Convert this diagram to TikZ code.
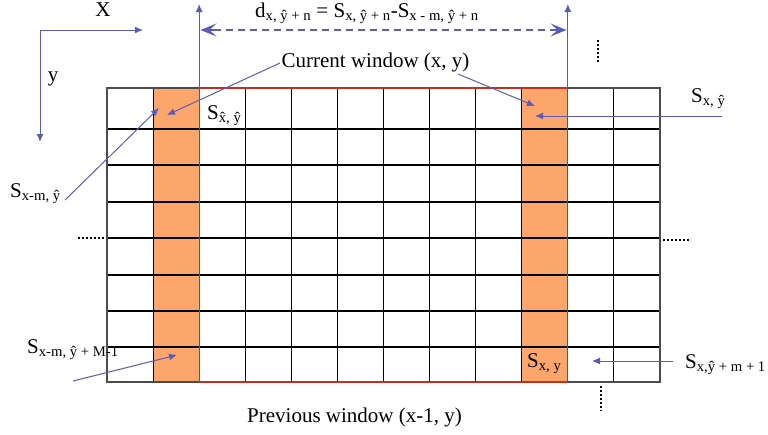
\documentclass[tikz,border=0pt]{standalone}
\usepackage{fontspec}
\setmainfont{Liberation Serif}
\usetikzlibrary{arrows.meta}
\definecolor{myblue}{RGB}{92,92,184}
\definecolor{myorange}{RGB}{252,166,108}
\definecolor{myred}{RGB}{200,45,30}
\newcommand\ms[1]{\textsubscript{#1}}
\tikzset{dhead/.tip={Stealth[length=16pt,width=13pt,inset=7pt]}}
\begin{document}
\begin{tikzpicture}[x=1pt,y=-1pt,
  lbl/.style={font=\fontsize{21}{24}\selectfont, inner sep=0pt},
  conn/.style={myblue, line width=1pt, -{Latex[length=8pt,width=7pt]}},
  gridline/.style={black, line width=1.1pt},
  dots/.style={black, line width=2pt, dash pattern=on 1.6pt off 2.4pt},
  winbox/.style={myred, line width=1.2pt}]
\useasboundingbox (0,0) rectangle (768,434);
% orange columns
\fill[myorange] (153.08,88) rectangle (199.16,382);
\fill[myorange] (521.76,88) rectangle (567.84,382);
% grid
\foreach \k in {0,...,12} \draw[gridline] ({107+46.08*\k},88) -- ({107+46.08*\k},382);
\foreach \r in {88,129,165,202,238,275,311,347,382} \draw[gridline] (107,\r) -- (660,\r);
\draw[gridline, black!70] (107,88) rectangle (660,382);
% current window
\draw[winbox] (199.16,88) rectangle (567.84,382);
% axes
\coordinate (o) at (40,30);
\coordinate (xe) at (143,30);
\coordinate (ye) at (40,142);
\draw[conn] (o) -- (xe);
\draw[conn] (o) -- (ye);
\node[lbl, anchor=base] (xl) at (103,16) {X};
\node[lbl, anchor=base] (yl) at (53,81) {y};
% vertical window markers
\coordinate (wl) at (199.16,88);
\coordinate (wlt) at (199.16,4);
\coordinate (wr) at (567.84,88);
\coordinate (wrt) at (567.84,4);
\draw[conn] (wl) -- (wlt);
\draw[conn] (wr) -- (wrt);
% dashed distance arrow
\coordinate (dl) at (200.5,30);
\coordinate (dr) at (566.5,30);
\coordinate (dli) at (214,30);
\coordinate (dri) at (553,30);
\draw[myblue, line width=1.1pt, dash pattern=on 7pt off 5pt] (dli) -- (dri);
\draw[myblue, line width=1.1pt, -{dhead}] (dli) -- (dl);
\draw[myblue, line width=1.1pt, -{dhead}] (dri) -- (dr);
\node[lbl, anchor=base west] (dform) at (255,17)
  {d\ms{x, ŷ + n} = S\ms{x, ŷ + n}-S\ms{x - m, ŷ + n}};
% current window label
\node[lbl, anchor=base] (cw) at (375.5,67) {Current window (x, y)};
\coordinate (cwa) at (280,63);
\coordinate (cwat) at (167,115);
\coordinate (cwb) at (458,74);
\coordinate (cwbt) at (535,106);
\draw[conn] (cwa) -- (cwat);
\draw[conn] (cwb) -- (cwbt);
% S x, y-hat (top right)
\node[lbl, anchor=base west] (sxy) at (691,102) {S\ms{x, ŷ}};
\coordinate (sxya) at (722,116);
\coordinate (sxyt) at (535,116);
\draw[conn] (sxya) -- (sxyt);
% S x-m, y-hat
\node[lbl, anchor=base west] (sxm) at (10,197) {S\ms{x-m, ŷ}};
\coordinate (sxma) at (65,200);
\coordinate (sxmt) at (159,108);
\draw[conn] (sxma) -- (sxmt);
% S x-hat, y-hat in cell
\node[lbl, anchor=base west] (shat) at (207,119) {S\ms{x̂, ŷ}};
% S x-m, y-hat + M-1
\node[lbl, anchor=base west] (sxmM) at (27,353) {S\ms{x-m, ŷ + M-1}};
\coordinate (sxmMa) at (73,381);
\coordinate (sxmMt) at (177,355);
\draw[conn] (sxmMa) -- (sxmMt);
% S x, y in cell
\node[lbl, anchor=base west] (sxyc) at (527,367) {S\ms{x, y}};
% S x, y-hat + m + 1
\node[lbl, anchor=base west] (sxym) at (685,368) {S\ms{x,ŷ + m + 1}};
\coordinate (sxyma) at (673,361);
\coordinate (sxymt) at (592,361);
\draw[conn] (sxyma) -- (sxymt);
% previous window
\node[lbl, anchor=base] (pw) at (354.5,422) {Previous window (x-1, y)};
% ellipsis dots
\coordinate (d1a) at (78,238); \coordinate (d1b) at (106,238);
\coordinate (d2a) at (663,240); \coordinate (d2b) at (690,240);
\coordinate (d3a) at (598,40); \coordinate (d3b) at (598,63);
\coordinate (d4a) at (601,386); \coordinate (d4b) at (601,411);
\draw[dots] (d1a) -- (d1b);
\draw[dots] (d2a) -- (d2b);
\draw[dots] (d3a) -- (d3b);
\draw[dots] (d4a) -- (d4b);
\end{tikzpicture}
\end{document}
